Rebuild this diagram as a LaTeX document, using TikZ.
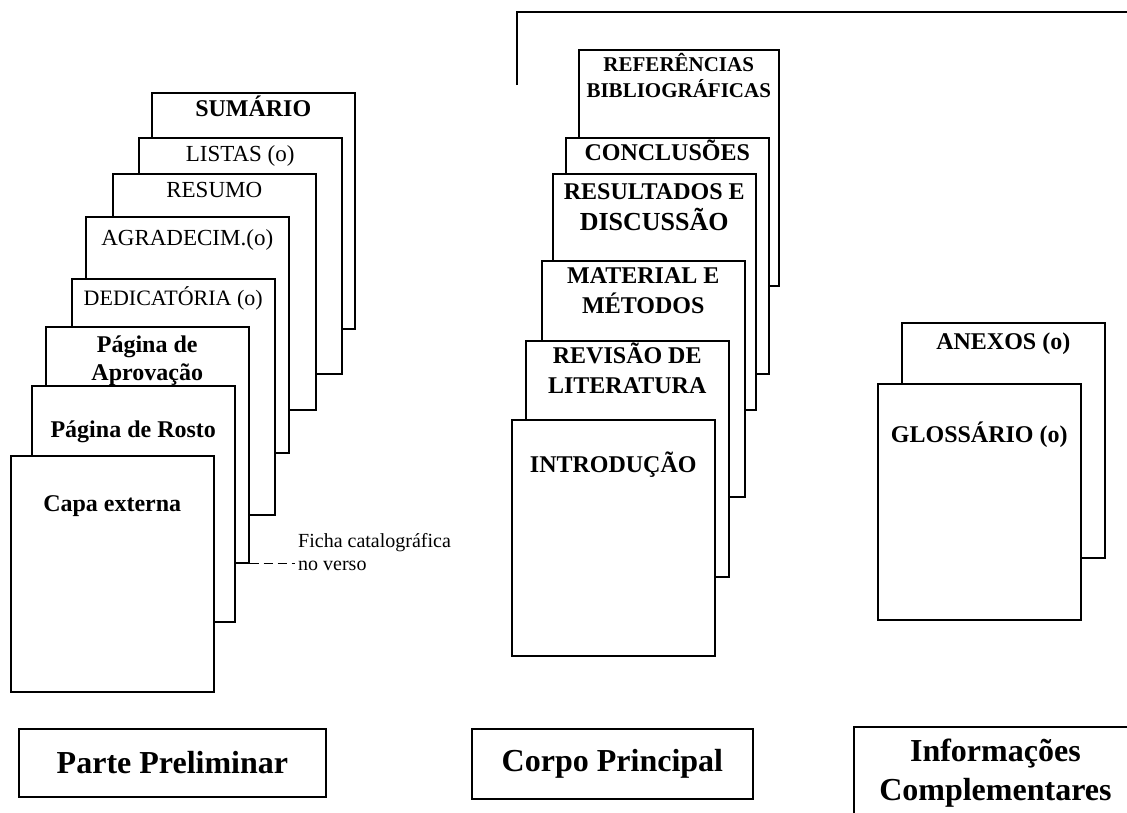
\documentclass[tikz,border=0pt]{standalone}
\usepackage{fontspec}
\setmainfont{Liberation Serif}
\tikzset{
    page/.style = {rectangle, draw=black, line width=1.5pt, fill=white, anchor=north west, minimum width=203pt, minimum height=236pt, inner sep=0pt},
    ptitle/.style = {anchor=base, inner sep=0pt, align=center, font=\fontsize{24}{28}\selectfont\bfseries},
    ptext/.style = {anchor=base, inner sep=0pt, align=center, font=\fontsize{23}{28}\selectfont},
    part/.style = {rectangle, draw=black, line width=1.8pt, inner sep=0pt, align=center, anchor=north west, font=\fontsize{32}{39}\selectfont\bfseries},
    note/.style = {anchor=base west, inner sep=0pt, align=left, font=\fontsize{20}{23}\selectfont},
    dashline/.style = {line width=1.3pt, dash pattern=on 9pt off 5pt},
    frame/.style = {line width=1.3pt}
}
\begin{document}
\begin{tikzpicture}[x=1pt, y=-1pt]
  \useasboundingbox (0,0) rectangle (1127,812);

  % parte preliminar (de tras para a frente)
  \node[page] (sumario) at (151,92) {};
  \node[ptitle] (sumario-t) at ([yshift=-24pt]sumario.north) {SUMÁRIO};
  \node[page] (listas) at (138,137) {};
  \node[ptext] (listas-t) at ([yshift=-24pt]listas.north) {LISTAS (o)};
  \node[page] (resumo) at (112,173) {};
  \node[ptext] (resumo-t) at ([yshift=-24pt]resumo.north) {RESUMO};
  \node[page] (agradecim) at (85,216) {};
  \node[ptext] (agradecim-t) at ([yshift=-29pt]agradecim.north) {AGRADECIM.(o)};
  \node[page] (dedicatoria) at (71,278) {};
  \node[ptext, font=\fontsize{22}{26}\selectfont] (dedicatoria-t) at ([yshift=-27pt]dedicatoria.north) {DEDICATÓRIA (o)};
  \node[page] (aprovacao) at (45,326) {};
  % base = ultima linha
  \node[ptitle] (aprovacao-t) at ([yshift=-54pt]aprovacao.north) {Página de\\Aprovação};
  \node[page] (rosto) at (31,385) {};
  \node[ptitle] (rosto-t) at ([yshift=-52pt]rosto.north) {Página de Rosto};
  \node[page] (capa) at (10,455) {};
  \node[ptitle] (capa-t) at ([yshift=-56pt]capa.north) {Capa externa};

  % ficha no verso
  \coordinate (ficha-end) at ([xshift=45pt]aprovacao.south east);
  \draw[dashline] (aprovacao.south east) -- (ficha-end);
  \node[note] (ficha) at (298,570) {Ficha catalográfica\\no verso};

  % corpo principal
  \coordinate (chave-a) at (517,85);
  \coordinate (chave-b) at (1135,12);
  \draw[frame] (chave-a) |- (chave-b);
  \node[page, minimum width=200pt] (referencias) at (578,49) {};
  \node[ptitle, font=\fontsize{21}{26}\selectfont\bfseries] (referencias-t) at ([yshift=-48pt]referencias.north) {REFERÊNCIAS\\BIBLIOGRÁFICAS};
  \node[page] (conclusoes) at (565,137) {};
  \node[ptitle] (conclusoes-t) at ([yshift=-23pt]conclusoes.north) {CONCLUSÕES};
  \node[page] (resultados) at (552,173) {};
  \node[ptitle, font=\fontsize{24}{31}\selectfont\bfseries] (resultados-t) at ([yshift=-57pt]resultados.north) {RESULTADOS E\\{\fontsize{26}{31}\selectfont DISCUSSÃO}};
  \node[page] (material) at (541,260) {};
  \node[ptitle, font=\fontsize{24}{30}\selectfont\bfseries] (material-t) at ([yshift=-53pt]material.north) {MATERIAL E\\MÉTODOS};
  \node[page] (revisao) at (525,340) {};
  \node[ptitle, font=\fontsize{24}{30}\selectfont\bfseries] (revisao-t) at ([yshift=-53pt]revisao.north) {REVISÃO DE\\LITERATURA};
  \node[page] (introducao) at (511,419) {};
  \node[ptitle] (introducao-t) at ([yshift=-53pt]introducao.north) {INTRODUÇÃO};

  % informacoes complementares
  \node[page, minimum height=235pt] (anexos) at (901,322) {};
  \node[ptitle] (anexos-t) at ([yshift=-27pt]anexos.north) {ANEXOS (o)};
  \node[page] (glossario) at (877,383) {};
  \node[ptitle] (glossario-t) at ([yshift=-59pt]glossario.north) {GLOSSÁRIO (o)};

  % legendas
  \node[part, minimum width=307pt, minimum height=68pt] (preliminar) at (18,728) {Parte Preliminar};
  \node[part, minimum width=281pt, minimum height=70pt] (principal) at (471,728) {Corpo Principal};
  \node[part, minimum width=283pt, minimum height=92pt] (complementares) at (853,726) {Informações\\Complementares};
\end{tikzpicture}
\end{document}
